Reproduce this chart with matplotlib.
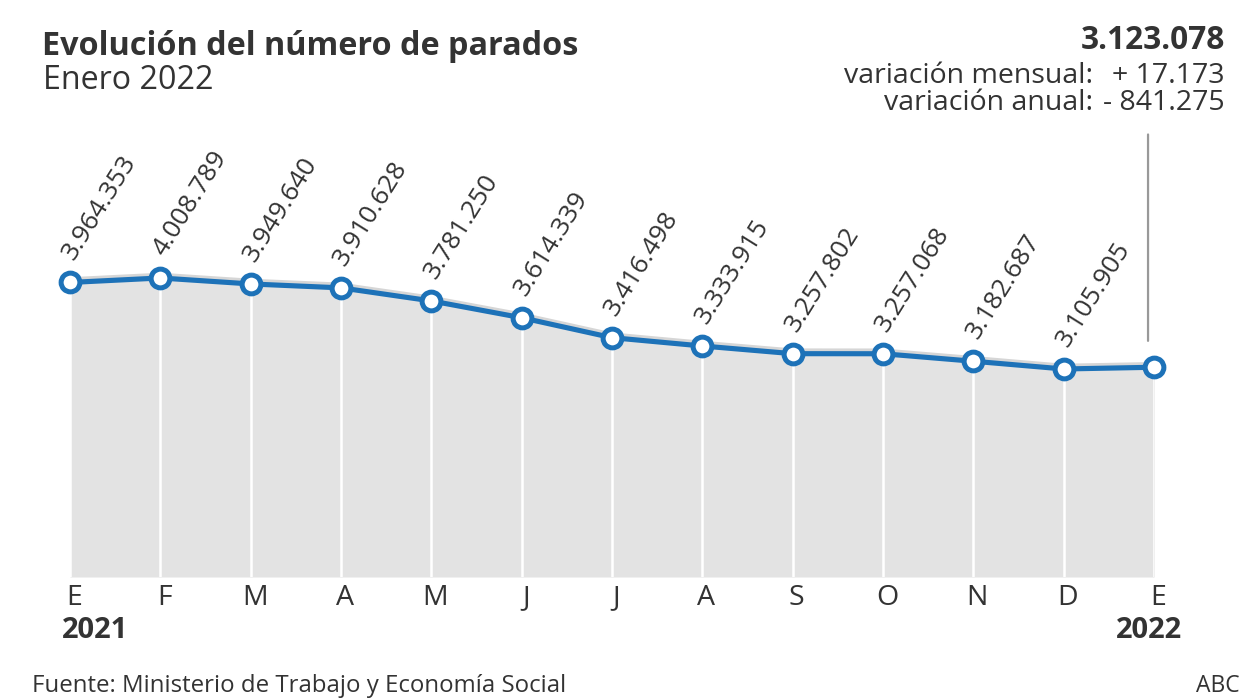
import matplotlib
matplotlib.use("Agg")
import matplotlib.pyplot as plt
import matplotlib.transforms as mtransforms

plt.rcParams['font.family'] = ['Open Sans', 'DejaVu Sans']

# ---- data ----
months = ["E", "F", "M", "A", "M", "J", "J", "A", "S", "O", "N", "D", "E"]
values = [3964353, 4008789, 3949640, 3910628, 3781250, 3614339, 3416498,
          3333915, 3257802, 3257068, 3182687, 3105905, 3123078]
value_labels = ["3.964.353", "4.008.789", "3.949.640", "3.910.628", "3.781.250",
                "3.614.339", "3.416.498", "3.333.915", "3.257.802", "3.257.068",
                "3.182.687", "3.105.905"]
year_start = "2021"
year_end = "2022"
title = "Evolución del número de parados"
subtitle = "Enero 2022"
last_value = "3.123.078"
var_labels = ["variación mensual:", "variación anual:"]
var_values = ["+ 17.173", "- 841.275"]
source = "Fuente: Ministerio de Trabajo y Economía Social"
brand = "ABC"

# ---- style ----
W, H = 1248, 698
BLUE = "#1d72b8"
FILL = "#e3e3e3"
TXT = "#333333"
Y_MIN, Y_MAX = 1042000, 5477000

fig = plt.figure(figsize=(W / 100, H / 100), dpi=100)
fig.patch.set_facecolor("white")


def fx(px):
    return px / W


def fy(py):
    return 1 - py / H


ax = fig.add_axes([fx(70), fy(577), (1154 - 70) / W, (577 - 130) / H])
ax.set_xlim(0, len(values) - 1)
ax.set_ylim(Y_MIN, Y_MAX)
ax.axis("off")

xs = list(range(len(values)))

# area
ax.fill_between(xs, Y_MIN, values, color=FILL, lw=0, zorder=1)
# white grid lines inside area
ax.vlines(xs, Y_MIN, values, colors="white", lw=1.8, zorder=2)
# soft shadow above line
shadow = mtransforms.offset_copy(ax.transData, fig=fig, x=0, y=2.5, units="dots")
ax.plot(xs, values, color="#d6d6d6", lw=4, transform=shadow, zorder=3,
        solid_capstyle="round")
# main line
ax.plot(xs, values, color=BLUE, lw=3.7, zorder=4, clip_on=False,
        marker="o", markersize=13.5, markerfacecolor="white",
        markeredgecolor=BLUE, markeredgewidth=3.6)

# rotated value labels
for x, v, lab in zip(xs, values, value_labels):
    ax.annotate(lab, xy=(x, v), xytext=(4, 21), textcoords="offset pixels",
                rotation=58, rotation_mode="anchor", ha="left", va="baseline",
                fontsize=18.8, color=TXT, zorder=5)

# connector line for the last value
ax.annotate("", xy=(xs[-1] - 0.066, values[-1]), xytext=(xs[-1] - 0.066, 0.99),
            xycoords="data", textcoords=("data", "axes fraction"),
            arrowprops=dict(arrowstyle="-", color="#999999", lw=1.6,
                            shrinkA=0, shrinkB=19), zorder=2)

# month tick labels
for x, m in zip(xs, months):
    ax.annotate(m, xy=(x, Y_MIN), xytext=(4, -28), textcoords="offset pixels",
                ha="center", va="baseline", fontsize=20.5, color=TXT)

fig.text(fx(62), fy(638), year_start, ha="left", va="baseline",
         fontsize=21, fontweight="bold", color=TXT)
fig.text(fx(1182), fy(638), year_end, ha="right", va="baseline",
         fontsize=21, fontweight="bold", color=TXT)

# titles
fig.text(fx(42), fy(55), title, ha="left", va="baseline", fontsize=23.3,
         fontweight="bold", color=TXT)
fig.text(fx(43), fy(89), subtitle, ha="left", va="baseline", fontsize=23.2,
         color=TXT)

# right-hand summary
fig.text(fx(1225), fy(49), last_value, ha="right", va="baseline", fontsize=22.8,
         fontweight="bold", color=TXT)
for i, (lab, val) in enumerate(zip(var_labels, var_values)):
    yb = 83 + i * 27
    fig.text(fx(1093), fy(yb), lab, ha="right", va="baseline", fontsize=20.5,
             color=TXT)
    fig.text(fx(1225), fy(yb), val, ha="right", va="baseline", fontsize=20.5,
             color=TXT)

# footer
fig.text(fx(32), fy(692), source, ha="left", va="baseline", fontsize=17.3,
         color=TXT)
fig.text(fx(1240), fy(692), brand, ha="right", va="baseline", fontsize=16.5,
         color=TXT)

fig.savefig("out.png", dpi=100, facecolor="white")
